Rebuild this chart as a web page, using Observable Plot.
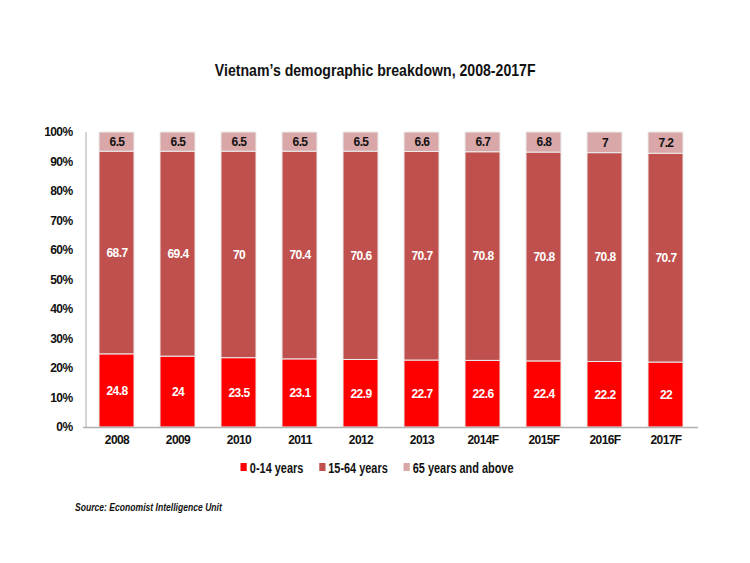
<!DOCTYPE html>
<html><head><meta charset="utf-8">
<script src="https://cdn.jsdelivr.net/npm/d3@7"></script>
<script src="https://cdn.jsdelivr.net/npm/@observablehq/plot@0.6"></script>
<style>
body{margin:0;background:#fff;font-family:"Liberation Sans",Arial,sans-serif;width:750px;height:563px;overflow:hidden}
#title{height:100px;box-sizing:border-box;padding-top:61px;text-align:center;font-weight:bold;font-size:17px;color:#111}
#title span{display:inline-block;transform:scaleX(0.83)}
#legendwrap{text-align:center;margin-top:7px;margin-left:4px}
#legend{display:inline-flex;gap:20px;font-weight:bold;font-size:14px;color:#111;transform:scaleX(0.78)}
#legend span.sw{display:inline-block;width:8px;height:8px;margin-right:4px;vertical-align:2px}
#source{margin-left:75px;margin-top:24px;font-weight:bold;font-style:italic;font-size:11px;color:#111;transform:scaleX(0.78);transform-origin:left;white-space:nowrap}
</style></head>
<body>
<div id="title"><span>Vietnam’s demographic breakdown, 2008-2017F</span></div>
<div id="chart"></div>
<div id="legendwrap"><div id="legend"></div></div>
<div id="source">Source: Economist Intelligence Unit</div>
<script>
const years = ["2008","2009","2010","2011","2012","2013","2014F","2015F","2016F","2017F"];
const groups = ["0-14 years","15-64 years","65 years and above"];
const age0_14 = [24.8,24,23.5,23.1,22.9,22.7,22.6,22.4,22.2,22];
const age15_64 = [68.7,69.4,70,70.4,70.6,70.7,70.8,70.8,70.8,70.7];
const age65 = [6.5,6.5,6.5,6.5,6.5,6.6,6.7,6.8,7,7.2];
const colors = ["#ff0000","#c0504d","#d9a7a8"];
const textColors = ["#ffffff","#ffffff","#111111"];

const series = [age0_14, age15_64, age65];
const data = [];
groups.forEach((g, gi) => years.forEach((y, yi) => data.push({year: y, group: g, value: series[gi][yi]})));

const chart = Plot.plot({
  width: 750,
  height: 352,
  marginTop: 32,
  marginBottom: 25,
  marginLeft: 83,
  marginRight: 52,
  style: {fontFamily: '"Liberation Sans",Arial,sans-serif', fontSize: "12px", fontWeight: "bold", color: "#111", letterSpacing: "-0.6px"},
  x: {domain: years, paddingInner: 0.43, paddingOuter: 0.215, label: null, tickSize: 0, tickPadding: 8},
  y: {domain: [0, 1], ticks: d3.range(0, 1.01, 0.1), tickFormat: d => Math.round(d * 100) + "%", label: null, tickSize: 0, tickPadding: 11},
  color: {domain: groups, range: colors},
  marks: [
    Plot.barY(data, Plot.stackY({x: "year", y: "value", z: "group", fill: "group", offset: "normalize", stroke: "#ececec", strokeWidth: 1})),
    Plot.text(data, Plot.stackY({x: "year", y: "value", z: "group", offset: "normalize", text: d => String(d.value),
      fill: d => textColors[groups.indexOf(d.group)], fontSize: 12, fontWeight: "bold"})),
    Plot.ruleX([0], {x: () => years[0], dx: -31, stroke: "#c8c8c8", strokeWidth: 1.5, y1: 0, y2: 1}),
    Plot.ruleY([0], {stroke: "#b0b0b0", strokeWidth: 1.5})
  ]
});
document.getElementById("chart").appendChild(chart);

const legend = document.getElementById("legend");
groups.forEach((g, i) => {
  const item = document.createElement("div");
  item.innerHTML = `<span class="sw" style="background:${colors[i]}"></span>${g}`;
  legend.appendChild(item);
});
</script>
</body></html>
